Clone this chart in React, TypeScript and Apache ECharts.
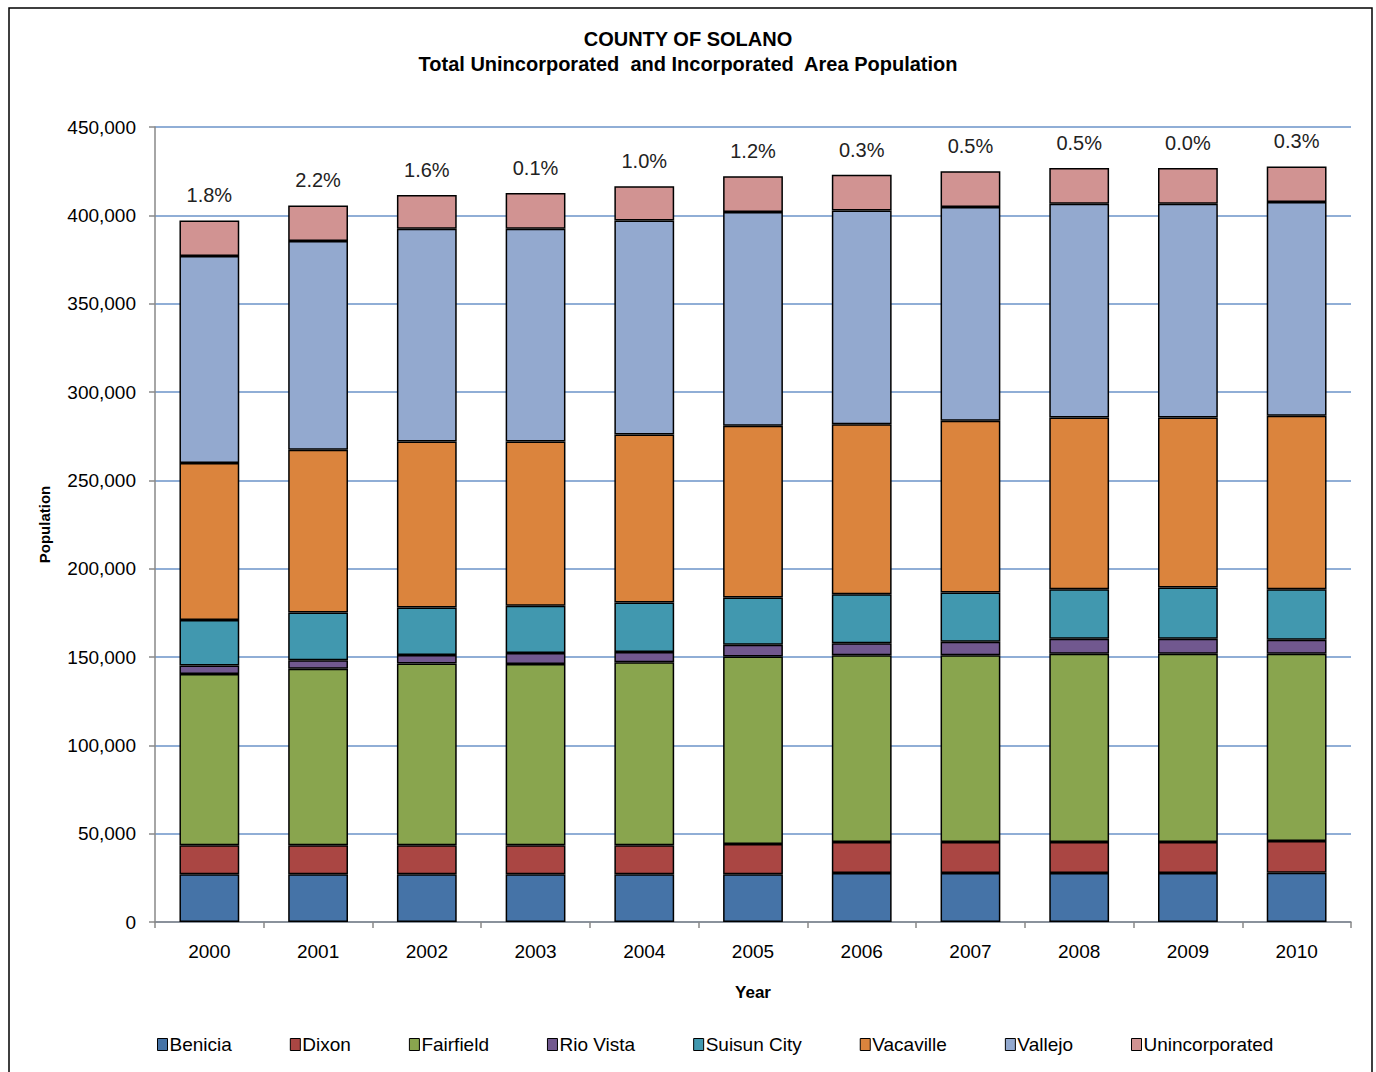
import React, { useEffect, useRef } from "react";
import * as echarts from "echarts";

const years = ["2000", "2001", "2002", "2003", "2004", "2005", "2006", "2007", "2008", "2009", "2010"];
const benicia = [27000, 27000, 27000, 27000, 27000, 27000, 27700, 27700, 27700, 27700, 27900];
const dixon = [16400, 16400, 16400, 16400, 16400, 17200, 17600, 17600, 17600, 17600, 18000];
const fairfield = [97000, 99900, 102900, 102700, 103600, 106100, 105700, 105700, 106500, 106500, 105900];
const rioVista = [4800, 4900, 4900, 6100, 5900, 6600, 6800, 7700, 8600, 8600, 7900];
const suisunCity = [25800, 27000, 26800, 26800, 27900, 26800, 27700, 27800, 28000, 28900, 28700];
const vacaville = [88800, 92100, 94000, 93000, 95200, 97200, 96300, 97200, 97200, 96300, 98100];
const vallejo = [117200, 118200, 120400, 120400, 121100, 121000, 121000, 121000, 121000, 121000, 121100];
const unincorporated = [20100, 20100, 19100, 20300, 19300, 20200, 20200, 20200, 20200, 20200, 20100];
const growthLabels = ["1.8%", "2.2%", "1.6%", "0.1%", "1.0%", "1.2%", "0.3%", "0.5%", "0.5%", "0.0%", "0.3%"];

const seriesDefs = [
  { name: "Benicia", data: benicia, color: "#4573a7" },
  { name: "Dixon", data: dixon, color: "#aa4643" },
  { name: "Fairfield", data: fairfield, color: "#89a54e" },
  { name: "Rio Vista", data: rioVista, color: "#71588f" },
  { name: "Suisun City", data: suisunCity, color: "#4198af" },
  { name: "Vacaville", data: vacaville, color: "#db843d" },
  { name: "Vallejo", data: vallejo, color: "#93a9cf" },
  { name: "Unincorporated", data: unincorporated, color: "#d19392" },
];

const FONT = "'Liberation Sans', Arial, sans-serif";

export default function App() {
  const ref = useRef<HTMLDivElement>(null);
  useEffect(() => {
    if (!ref.current) return;
    const chart = echarts.init(ref.current, null, { renderer: "svg" });
    const option: any = {
      animation: false,
      backgroundColor: "#ffffff",
      textStyle: { fontFamily: FONT },
      title: {
        text: "COUNTY OF SOLANO\nTotal Unincorporated  and Incorporated  Area Population",
        left: "center",
        top: 26,
        padding: 0,
        textStyle: { fontSize: 20, fontWeight: "bold", color: "#000", lineHeight: 25, fontFamily: FONT },
      },
      legend: {
        left: 157,
        top: 1035,
        padding: 0,
        itemGap: 58,
        itemWidth: 10,
        itemHeight: 12,
        icon: "rect",
        textStyle: { fontSize: 19, color: "#000", fontFamily: FONT, padding: [0, 0, 0, -3] },
        itemStyle: { borderColor: "#000", borderWidth: 1 },
        data: seriesDefs.map((s) => s.name),
      },
      grid: { left: 155, right: 25, top: 127, bottom: 150, containLabel: false },
      xAxis: {
        type: "category",
        data: years,
        name: "Year",
        nameLocation: "middle",
        nameGap: 62,
        nameTextStyle: { fontSize: 17, fontWeight: "bold", color: "#000", fontFamily: FONT },
        axisLine: { lineStyle: { color: "#888", width: 1.5 } },
        axisTick: { show: true, length: 6, lineStyle: { color: "#888", width: 1.5 }, alignWithLabel: false },
        axisLabel: { fontSize: 19, color: "#000", margin: 20, fontFamily: FONT },
      },
      yAxis: {
        type: "value",
        min: 0,
        max: 450000,
        interval: 50000,
        name: "Population",
        nameLocation: "middle",
        nameGap: 103,
        nameRotate: 90,
        nameTextStyle: { fontSize: 15, fontWeight: "bold", color: "#000", fontFamily: FONT },
        axisLine: { show: true, lineStyle: { color: "#888", width: 1.5 } },
        axisTick: { show: true, length: 6, lineStyle: { color: "#888", width: 1.5 } },
        axisLabel: {
          fontSize: 19,
          color: "#000",
          margin: 19,
          fontFamily: FONT,
          formatter: (v: number) => (v === 0 ? "0" : v.toLocaleString("en-US")),
        },
        splitLine: { lineStyle: { color: "#6b93c8", width: 1.5 } },
      },
      series: seriesDefs.map((s, i) => ({
        name: s.name,
        type: "bar",
        stack: "total",
        barWidth: "55%",
        data: s.data,
        itemStyle: { color: s.color, borderColor: "#000", borderWidth: 1.5 },
        label:
          i === seriesDefs.length - 1
            ? {
                show: true,
                position: "top",
                distance: 15,
                fontSize: 20,
                color: "#222",
                fontFamily: FONT,
                formatter: (p: any) => growthLabels[p.dataIndex],
              }
            : { show: false },
      })),
      graphic: [
        {
          type: "rect",
          shape: { x: 9, y: 8, width: 1363, height: 1080 },
          style: { fill: "none", stroke: "#000", lineWidth: 1.5 },
          silent: true,
          z: 100,
        },
      ],
    };
    chart.setOption(option);
    return () => chart.dispose();
  }, []);
  return (
    <div
      ref={ref}
      style={{ position: "absolute", left: 0, top: 0, width: 1376, height: 1072 }}
    />
  );
}
